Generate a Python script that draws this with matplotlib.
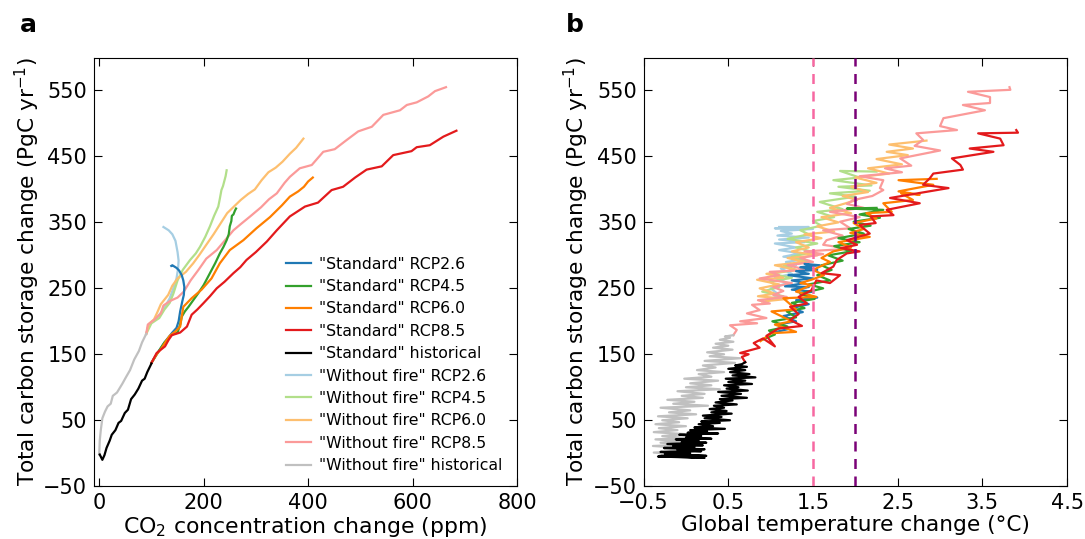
import matplotlib.pyplot as plt

# colours (Paired-like)
c_std = ['#1f78b4', '#33a02c', '#ff7f00', '#e31a1c', 'black']
c_nof = ['#a6cee3', '#b2df8a', '#fdbf6f', '#fb9a99', '#c0c0c0']
labels = ['"Standard" RCP2.6', '"Standard" RCP4.5', '"Standard" RCP6.0', '"Standard" RCP8.5',
          '"Standard" historical', '"Without fire" RCP2.6', '"Without fire" RCP4.5',
          '"Without fire" RCP6.0', '"Without fire" RCP8.5', '"Without fire" historical']

# ---- panel a: CO2 change (ppm) vs carbon storage change ----
std26_co2 = [100, 110, 125, 140, 148, 152, 155, 159, 162, 163, 161, 158, 153, 148, 144, 140, 138]
std26_cs = [137, 150, 168, 183, 190, 200, 215, 230, 240, 252, 262, 270, 277, 281, 283, 285, 284]
std45_co2 = [100, 110, 125, 140, 150, 155, 158, 164, 171, 180, 190, 200, 212, 222, 231, 238, 244, 248, 250, 253, 254, 257, 260, 262]
std45_cs = [137, 150, 168, 180, 183, 195, 207, 215, 222, 232, 243, 255, 273, 288, 303, 313, 323, 332, 344, 352, 360, 362, 368, 371]
std60_co2 = [100, 110, 120, 128, 135, 145, 155, 161, 177, 196, 215, 231, 250, 276, 301, 327, 350, 365, 381, 392, 400, 409]
std60_cs = [137, 150, 160, 170, 178, 184, 192, 222, 235, 248, 265, 288, 308, 323, 341, 358, 376, 389, 397, 404, 412, 418]
std85_co2 = [100, 110, 118, 126, 133, 139, 147, 155, 168, 177, 188, 199, 212, 225, 240, 257, 270, 282, 300, 321,
             340, 365, 394, 419, 445, 467, 490, 512, 541, 563, 598, 608, 633, 659, 684]
std85_cs = [137, 152, 157, 162, 172, 179, 181, 183, 192, 210, 218, 227, 238, 250, 260, 273, 282, 293, 305, 321,
            338, 359, 374, 380, 399, 404, 418, 430, 435, 452, 458, 464, 467, 480, 489]
stdhist_co2 = [1, 6, 10, 14, 20, 24, 31, 37, 42, 49, 55, 61, 68, 75, 82, 87, 92, 100]
stdhist_cs = [-2, -10, -3, 8, 19, 28, 35, 46, 49, 61, 66, 82, 89, 98, 110, 113, 123, 136]

nof26_co2 = [90, 95, 110, 120, 128, 135, 142, 148, 151, 152, 150, 146, 140, 133, 127, 123]
nof26_cs = [181, 195, 205, 215, 225, 235, 250, 265, 280, 292, 305, 322, 332, 338, 341, 343]
nof45_co2 = [90, 100, 115, 125, 135, 142, 150, 160, 174, 185, 193, 203, 212, 220, 228, 231, 234, 237, 240, 242, 244]
nof45_cs = [181, 197, 205, 218, 228, 242, 262, 278, 293, 303, 313, 328, 344, 360, 374, 386, 399, 405, 414, 420, 429]
nof60_co2 = [90, 95, 105, 112, 118, 124, 132, 140, 150, 166, 180, 192, 205, 219, 232, 245, 258, 271, 285, 298,
             311, 324, 338, 351, 365, 377, 384, 391]
nof60_cs = [181, 196, 203, 215, 226, 232, 240, 254, 265, 275, 288, 301, 316, 332, 348, 364, 374, 384, 393, 400,
            414, 426, 433, 442, 454, 463, 470, 477]
nof85_co2 = [90, 93, 105, 118, 123, 136, 150, 162, 175, 190, 205, 225, 240, 257, 272, 289, 310, 325, 340, 355,
             365, 384, 407, 429, 451, 474, 496, 522, 544, 576, 589, 608, 630, 643, 664]
nof85_cs = [181, 195, 202, 212, 224, 231, 236, 245, 262, 278, 295, 308, 322, 338, 348, 359, 373, 385, 394, 410,
            419, 432, 437, 457, 461, 475, 488, 495, 513, 520, 528, 532, 541, 549, 555]
nofhist_co2 = [0, 1, 3, 6, 11, 16, 22, 26, 34, 44, 51, 59, 67, 76, 82, 90]
nofhist_cs = [-2, 19, 35, 53, 63, 71, 75, 87, 92, 105, 115, 126, 142, 155, 168, 181]

# ---- panel b: global temperature change vs carbon storage change ----
std26_T = [1.00, 1.20, 1.08, 1.30, 1.15, 1.38, 1.25, 1.45, 1.30, 1.55, 1.35, 1.50, 1.25, 1.45, 1.17, 1.40, 1.25, 1.50,
           1.21, 1.45, 1.30, 1.55, 1.35, 1.58, 1.40, 1.50, 1.42]
std26_C = [182, 188, 195, 200, 208, 214, 220, 226, 232, 236, 242, 245, 248, 252, 253, 258, 262, 265,
           270, 272, 276, 278, 282, 285, 287, 284, 280]
std45_T = [0.90, 1.05, 0.98, 1.20, 1.02, 1.30, 1.19, 1.40, 1.25, 1.52, 1.35, 1.62, 1.45, 1.70, 1.55, 1.72, 1.60, 1.85,
           1.68, 1.95, 1.75, 2.05, 1.80, 2.10, 1.92, 2.18, 1.98, 2.29, 2.05, 2.33, 1.90, 2.25]
std45_C = [172, 180, 186, 192, 200, 206, 215, 220, 228, 234, 242, 250, 256, 262, 270, 278, 285, 292,
           300, 306, 314, 320, 326, 333, 340, 345, 351, 357, 362, 369, 371, 372]
std60_T = [0.88, 1.01, 1.30, 1.05, 1.25, 1.01, 1.30, 1.15, 1.54, 1.30, 1.48, 1.35, 1.48, 1.63, 1.50, 1.70, 1.60, 1.74,
           1.95, 1.80, 2.17, 1.94, 2.10, 1.98, 2.25, 2.13, 2.43, 2.33, 2.68, 2.54, 2.76, 2.51, 2.92, 2.51, 2.96]
std60_C = [170, 182, 184, 195, 200, 215, 218, 235, 237, 245, 255, 258, 263, 270, 278, 290, 296, 306,
           312, 320, 328, 334, 340, 349, 356, 364, 366, 379, 384, 394, 392, 397, 407, 414, 416]
std85_T = [0.70, 0.66, 0.74, 0.64, 0.87, 0.80, 0.91, 1.05, 0.95, 1.09, 1.37, 1.23, 1.33, 1.23, 1.43, 1.33, 1.48, 1.54,
           1.70, 1.82, 1.60, 1.74, 1.78, 1.90, 2.05, 1.83, 2.02, 1.90, 2.17, 2.05, 2.24, 2.18, 2.45, 2.37, 2.76, 2.41,
           3.10, 2.80, 2.88, 2.92, 3.27, 3.24, 3.14, 3.63, 3.35, 3.75, 3.71, 3.45, 3.92, 3.90]
std85_C = [138, 146, 150, 152, 160, 167, 174, 162, 178, 189, 193, 202, 211, 222, 227, 237, 247, 262,
           258, 270, 273, 283, 293, 303, 306, 311, 316, 323, 333, 346, 349, 359, 361, 369, 379, 387,
           402, 407, 417, 424, 430, 437, 447, 457, 462, 467, 477, 485, 486, 490]
stdhist_T = [-0.28, 0.10, -0.33, 0.22, -0.20, 0.24, -0.25, 0.05, -0.30, 0.18,
             -0.10, 0.22, -0.26, 0.10, -0.15, 0.20, -0.22, 0.24, -0.05, 0.15,
             -0.12, 0.30, 0.00, 0.18, -0.08, 0.38, 0.02, 0.25, 0.05, 0.46,
             0.10, 0.32, 0.15, 0.40, 0.18, 0.52, 0.22, 0.42, 0.20, 0.54,
             0.30, 0.48, 0.28, 0.45, 0.33, 0.60, 0.35, 0.55, 0.40, 0.72,
             0.42, 0.65, 0.38, 0.73, 0.48, 0.62, 0.45, 0.78, 0.50, 0.70,
             0.47, 0.82, 0.55, 0.75, 0.52, 0.70, 0.50, 0.72, 0.58, 0.66,
             0.70]
stdhist_C = [-4, -6, -5, -7, -3, -4, -1, 0, 2, 3,
             5, 6, 8, 9, 11, 12, 14, 16, 17, 19,
             21, 22, 24, 26, 28, 30, 31, 33, 35, 37,
             39, 41, 44, 46, 48, 50, 53, 55, 57, 60,
             62, 64, 67, 69, 72, 74, 77, 80, 82, 84,
             87, 90, 93, 95, 98, 100, 103, 105, 108, 110,
             113, 115, 118, 120, 123, 126, 128, 131, 133, 135,
             138]

nof26_T = [0.95, 1.10, 1.00, 1.20, 1.05, 1.25, 1.12, 1.30, 1.18, 1.40, 1.15, 1.35, 1.10, 1.30, 1.05, 1.40, 1.10, 1.45,
           1.08, 1.25, 1.12, 1.50, 1.05, 1.45, 1.10]
nof26_C = [230, 240, 250, 258, 266, 272, 280, 285, 290, 294, 298, 303, 308, 312, 318, 320, 324, 327,
           330, 333, 337, 340, 341, 343, 343]
nof45_T = [0.95, 1.15, 0.90, 1.10, 0.99, 1.25, 1.00, 1.30, 1.15, 1.45, 1.25, 1.50, 1.30, 1.55, 1.20, 1.45, 1.35, 1.60,
           1.50, 1.75, 1.55, 1.85, 1.58, 2.00, 1.70, 2.17, 1.80, 2.19, 1.74, 2.05, 1.82, 2.25]
nof45_C = [232, 238, 245, 252, 260, 266, 272, 278, 285, 290, 298, 305, 312, 318, 325, 332, 338, 345,
           352, 358, 366, 370, 381, 389, 394, 398, 404, 406, 414, 418, 428, 427]
nof60_T = [0.90, 1.20, 0.85, 1.05, 0.87, 1.10, 0.84, 1.15, 0.95, 1.30, 1.05, 1.40, 1.20, 1.55, 1.25, 1.45, 1.30, 1.60,
           1.40, 1.75, 1.55, 1.80, 1.60, 1.95, 1.70, 2.02, 1.85, 2.15, 1.95, 2.25, 2.00, 2.40, 2.15, 2.55, 2.25, 2.62,
           2.37, 2.68, 2.40, 2.84]
nof60_C = [230, 234, 238, 242, 250, 256, 263, 266, 272, 278, 285, 290, 296, 300, 306, 312, 320, 326,
           332, 336, 344, 350, 358, 364, 372, 384, 390, 396, 404, 410, 418, 424, 432, 438, 446, 452,
           457, 462, 468, 474]
nof85_T = [0.56, 0.60, 0.52, 0.84, 0.64, 0.95, 0.72, 0.87, 0.78, 0.99, 0.85, 1.19, 1.03, 1.15, 1.03, 1.25, 0.87, 1.10,
           0.99, 1.43, 1.20, 1.50, 1.35, 1.62, 1.40, 1.94, 1.62, 1.66, 1.85, 1.62, 1.94, 1.82, 2.05, 1.70, 2.10, 1.90,
           1.98, 2.20, 2.33, 2.29, 2.33, 2.05, 2.55, 2.35, 2.66, 2.53, 3.00, 2.70, 2.80, 2.72, 3.20, 3.00, 3.04, 3.53,
           3.27, 3.59, 3.59, 3.33, 3.83, 3.82]
nof85_C = [179, 187, 194, 197, 200, 205, 212, 217, 225, 227, 232, 237, 240, 246, 252, 258, 265, 270,
           275, 278, 285, 290, 296, 302, 306, 310, 316, 323, 330, 338, 341, 351, 358, 366, 372, 378,
           384, 390, 399, 402, 414, 420, 426, 432, 436, 447, 459, 466, 475, 485, 490, 496, 508, 520,
           528, 531, 540, 548, 551, 555]
nofhist_T = [-0.30, 0.00, -0.38, 0.05, -0.25, -0.02, -0.39, 0.03, -0.30, -0.05,
             -0.36, 0.00, -0.28, -0.02, -0.38, -0.10, -0.32, 0.00, -0.36, -0.08,
             -0.28, 0.02, -0.33, 0.12, -0.20, 0.05, -0.30, 0.26, -0.15, 0.10,
             -0.22, 0.20, -0.05, 0.22, -0.10, 0.40, 0.00, 0.30, 0.05, 0.38,
             -0.02, 0.30, 0.15, 0.45, 0.13, 0.35, 0.20, 0.58, 0.22, 0.64,
             0.28, 0.45, 0.25, 0.55, 0.32, 0.50, 0.35, 0.56, 0.40, 0.52,
             0.46, 0.56]
nofhist_C = [-3, -2, 1, 3, 6, 8, 11, 13, 16, 18,
             21, 23, 26, 29, 32, 35, 38, 41, 44, 47,
             50, 53, 56, 59, 62, 65, 69, 72, 75, 78,
             81, 84, 87, 90, 94, 97, 100, 103, 106, 110,
             113, 116, 120, 123, 126, 130, 133, 137, 140, 144,
             147, 150, 153, 157, 160, 163, 166, 169, 172, 175,
             177, 179]

left_std = [(std26_co2, std26_cs), (std45_co2, std45_cs), (std60_co2, std60_cs), (std85_co2, std85_cs),
            (stdhist_co2, stdhist_cs)]
left_nof = [(nof26_co2, nof26_cs), (nof45_co2, nof45_cs), (nof60_co2, nof60_cs), (nof85_co2, nof85_cs),
            (nofhist_co2, nofhist_cs)]
right_std = [(std26_T, std26_C), (std45_T, std45_C), (std60_T, std60_C), (std85_T, std85_C), (stdhist_T, stdhist_C)]
right_nof = [(nof26_T, nof26_C), (nof45_T, nof45_C), (nof60_T, nof60_C), (nof85_T, nof85_C), (nofhist_T, nofhist_C)]

plt.rcParams['font.family'] = 'DejaVu Sans'
fig = plt.figure(figsize=(10.85, 5.39), dpi=100)
ax1 = fig.add_axes([94 / 1085, 52.8 / 539, 423 / 1085, 428.7 / 539])
ax2 = fig.add_axes([643.6 / 1085, 52.8 / 539, 423.5 / 1085, 428.7 / 539])

lw = 1.6
handles = []
for i in range(5):
    x, y = left_std[i]
    h, = ax1.plot(x, y, color=c_std[i], lw=lw, zorder=3)
    handles.append(h)
    x, y = right_std[i]
    ax2.plot(x, y, color=c_std[i], lw=lw, zorder=3)
for i in range(5):
    x, y = left_nof[i]
    h, = ax1.plot(x, y, color=c_nof[i], lw=lw, zorder=2)
    handles.append(h)
    x, y = right_nof[i]
    ax2.plot(x, y, color=c_nof[i], lw=lw, zorder=2)

# 1.5 and 2 degree lines
ax2.axvline(1.5, color='#f768a1', lw=1.8, ls=(0, (4, 3)), zorder=4)
ax2.axvline(2.0, color='#7a0177', lw=1.8, ls=(0, (4, 3)), zorder=4)

ax1.legend(handles, labels, loc='upper left', bbox_to_anchor=(0.44, 0.55), frameon=False, fontsize=11.3,
           handlelength=1.55, handletextpad=0.55, labelspacing=0.47, borderaxespad=0)

yticks = [-50, 50, 150, 250, 350, 450, 550]
for ax in (ax1, ax2):
    ax.set_ylim(-50, 600)
    ax.set_yticks(yticks)
    ax.tick_params(direction='in', top=True, right=True, length=6, width=0.8, labelsize=15, pad=5)
    ax.set_ylabel('Total carbon storage change (PgC yr$^{-1}$)', fontsize=15.6, labelpad=1)
ax1.set_xlim(-10, 800)
ax1.set_xticks([0, 200, 400, 600, 800])
ax1.set_xlabel('CO$_2$ concentration change (ppm)', fontsize=15.8, labelpad=1)
ax2.set_xlim(-0.5, 4.5)
ax2.set_xticks([-0.5, 0.5, 1.5, 2.5, 3.5, 4.5])
ax2.set_xlabel('Global temperature change (°C)', fontsize=15.6, labelpad=1)

fig.text(0.018, 0.953, 'a', fontsize=18, fontweight='bold', va='center')
fig.text(0.522, 0.953, 'b', fontsize=18, fontweight='bold', va='center')

fig.savefig('out.png', dpi=100)
